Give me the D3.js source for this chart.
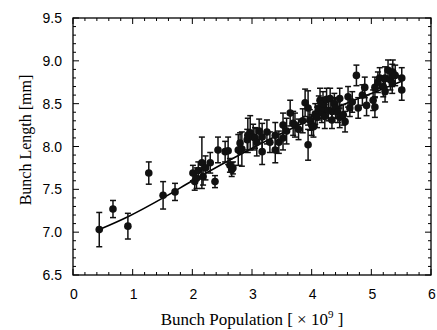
<!DOCTYPE html>
<html><head><meta charset="utf-8">
<script src="https://cdn.jsdelivr.net/npm/d3@7"></script>
<style>body{margin:0;background:#fff}svg{display:block}</style>
</head><body>
<svg id="c" width="437" height="330"></svg>
<script>
const population = [0.44,0.67,0.92,1.27,1.51,1.71,2.01,2.04,2.07,2.10,2.16,2.18,2.22,2.30,2.38,2.43,2.55,2.60,2.63,2.66,2.68,2.77,2.83,2.80,2.92,2.93,2.97,3.02,3.05,3.08,3.12,3.17,3.17,3.25,3.30,3.39,3.39,3.45,3.52,3.52,3.58,3.64,3.69,3.72,3.78,3.85,3.89,3.94,3.94,3.97,4.00,4.03,4.06,4.09,4.12,4.14,4.17,4.19,4.19,4.22,4.25,4.28,4.31,4.34,4.34,4.38,4.40,4.44,4.47,4.47,4.53,4.56,4.61,4.64,4.68,4.75,4.78,4.85,4.89,4.92,5.03,5.06,5.06,5.11,5.14,5.20,5.23,5.23,5.28,5.32,5.35,5.35,5.36,5.40,5.51,5.51];
const bunchLength = [7.03,7.27,7.07,7.69,7.43,7.47,7.69,7.59,7.63,7.72,7.81,7.65,7.75,7.81,7.59,7.96,7.94,7.95,7.78,7.73,7.75,7.96,7.97,8.04,8.08,8.13,8.16,8.11,8.10,8.05,8.18,8.11,7.94,8.17,8.05,8.13,7.96,8.05,8.10,8.25,8.18,8.39,8.27,8.25,8.20,8.30,8.51,8.45,8.02,8.31,8.25,8.23,8.38,8.34,8.45,8.54,8.40,8.45,8.50,8.35,8.55,8.42,8.56,8.41,8.31,8.50,8.45,8.40,8.56,8.34,8.37,8.29,8.58,8.45,8.52,8.83,8.45,8.60,8.69,8.48,8.54,8.69,8.46,8.75,8.80,8.70,8.80,8.64,8.89,8.78,8.83,8.74,8.87,8.83,8.80,8.66];
const lengthError = [0.20,0.10,0.15,0.13,0.16,0.10,0.09,0.10,0.12,0.10,0.30,0.10,0.14,0.12,0.07,0.15,0.12,0.16,0.08,0.08,0.07,0.18,0.20,0.12,0.12,0.20,0.20,0.15,0.12,0.16,0.14,0.16,0.15,0.14,0.12,0.15,0.15,0.13,0.14,0.14,0.15,0.15,0.14,0.14,0.12,0.14,0.16,0.20,0.18,0.12,0.12,0.12,0.12,0.12,0.14,0.14,0.12,0.12,0.14,0.14,0.13,0.12,0.12,0.12,0.10,0.12,0.12,0.12,0.12,0.12,0.12,0.12,0.12,0.10,0.12,0.12,0.12,0.12,0.12,0.12,0.12,0.12,0.12,0.12,0.12,0.12,0.13,0.12,0.12,0.12,0.13,0.12,0.14,0.12,0.12,0.12];
const fitPopulation = [0.44,0.92,1.51,2.0,3.0,4.0,4.4,5.0,5.5];
const fitLength = [7.03,7.18,7.40,7.60,7.98,8.32,8.45,8.62,8.76];
const xTicks = [0,1,2,3,4,5,6];
const yTicks = [6.5,7.0,7.5,8.0,8.5,9.0,9.5];

const svg = d3.select('#c');
const L=73,R=431,T=18,B=275;
const x = d3.scaleLinear().domain([0,6]).range([L,R]);
const y = d3.scaleLinear().domain([6.5,9.5]).range([B,T]);

svg.append('rect').attr('x',L).attr('y',T).attr('width',R-L).attr('height',B-T)
  .attr('fill','none').attr('stroke','#000').attr('stroke-width',1.3);

const xMinor = d3.range(0,6.0001,0.2);
const yMinor = d3.range(6.5,9.5001,0.1);
const tg = svg.append('g').attr('stroke','#000').attr('stroke-width',1);
xMinor.forEach(v=>{
  const major = Math.abs(v-Math.round(v))<1e-6;
  const len = major?6:3;
  tg.append('line').attr('x1',x(v)).attr('x2',x(v)).attr('y1',B).attr('y2',B-len);
  tg.append('line').attr('x1',x(v)).attr('x2',x(v)).attr('y1',T).attr('y2',T+len);
});
yMinor.forEach(v=>{
  const major = Math.abs(v*2-Math.round(v*2))<1e-6;
  const len = major?6:3;
  tg.append('line').attr('y1',y(v)).attr('y2',y(v)).attr('x1',L).attr('x2',L+len);
  tg.append('line').attr('y1',y(v)).attr('y2',y(v)).attr('x1',R).attr('x2',R-len);
});

svg.append('g').selectAll('text').data(xTicks).join('text')
  .attr('x',d=>x(d)+1).attr('y',299).attr('text-anchor','middle')
  .attr('font-family','Liberation Sans, Arial, sans-serif').attr('font-size',14)
  .text(d=>d);
svg.append('g').selectAll('text').data(yTicks).join('text')
  .attr('x',62).attr('y',d=>y(d)+5).attr('text-anchor','end')
  .attr('font-family','Liberation Sans, Arial, sans-serif').attr('font-size',14)
  .text(d=>d.toFixed(1));

const xt = svg.append('text').attr('x',252).attr('y',325).attr('text-anchor','middle')
  .attr('font-family','Liberation Serif, Times New Roman, serif').attr('font-size',17);
xt.append('tspan').text('Bunch Population [ \u00d7 10');
xt.append('tspan').attr('dy',-7).attr('font-size',11).text('9');
xt.append('tspan').attr('dy',7).text(' ]');
svg.append('text').attr('transform','translate(31,140) rotate(-90)').attr('text-anchor','middle')
  .attr('font-family','Liberation Serif, Times New Roman, serif').attr('font-size',16)
  .text('Bunch Length [mm]');

const pts = fitPopulation.map((p,i)=>[p,fitLength[i]]);
svg.append('path').datum(pts)
  .attr('d',d3.line().x(d=>x(d[0])).y(d=>y(d[1])).curve(d3.curveMonotoneX))
  .attr('fill','none').attr('stroke','#000').attr('stroke-width',1.6);

const data = population.map((p,i)=>({p,l:bunchLength[i],e:lengthError[i]}));
const eg = svg.append('g').attr('stroke','#111').attr('stroke-width',1.5);
data.forEach(d=>{
  eg.append('line').attr('x1',x(d.p)).attr('x2',x(d.p)).attr('y1',y(d.l+d.e)).attr('y2',y(d.l-d.e));
  eg.append('line').attr('x1',x(d.p)-3).attr('x2',x(d.p)+3).attr('y1',y(d.l+d.e)).attr('y2',y(d.l+d.e));
  eg.append('line').attr('x1',x(d.p)-3).attr('x2',x(d.p)+3).attr('y1',y(d.l-d.e)).attr('y2',y(d.l-d.e));
});
svg.append('g').selectAll('circle').data(data).join('circle')
  .attr('cx',d=>x(d.p)).attr('cy',d=>y(d.l)).attr('r',3.8).attr('fill','#111');
</script>
</body></html>
